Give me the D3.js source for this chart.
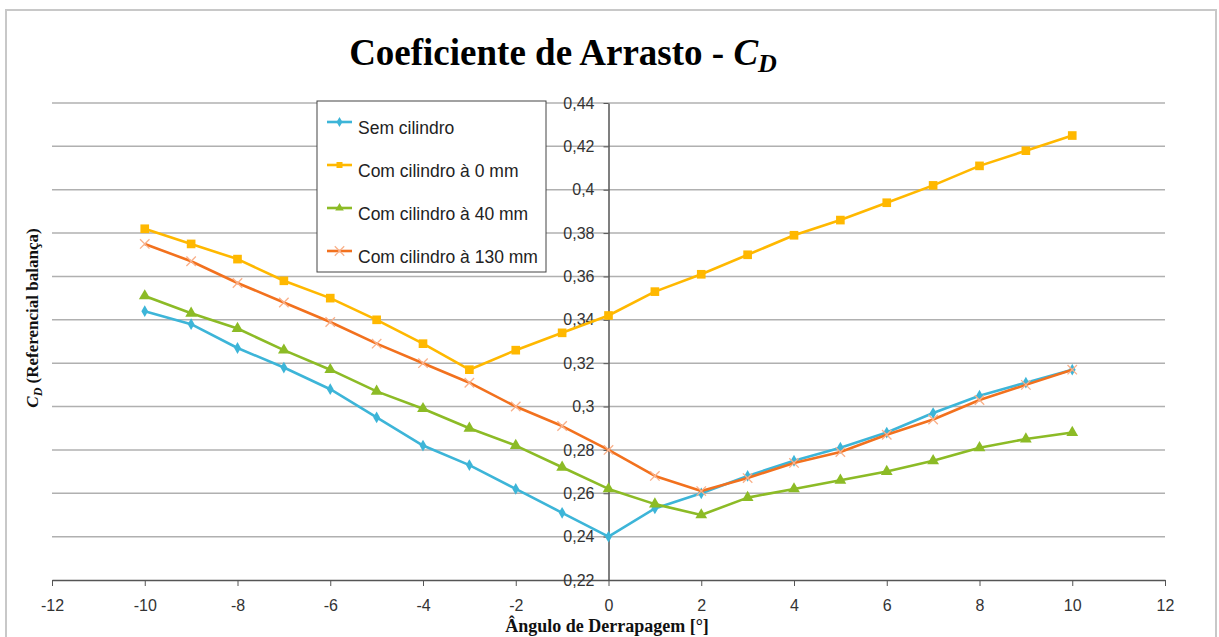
<!DOCTYPE html>
<html>
<head>
<meta charset="utf-8">
<script src="https://cdn.jsdelivr.net/npm/d3@7"></script>
<style>
  body { margin: 0; background: #fff; }
  .tick text { font-family: "Liberation Sans", Arial, sans-serif; font-size: 16px; fill: #333; }
</style>
</head>
<body>
<svg width="1219" height="637"></svg>
<script>
// ângulos de derrapagem
var angulos = [-10, -9, -8, -7, -6, -5, -4, -3, -2, -1, 0, 1, 2, 3, 4, 5, 6, 7, 8, 9, 10];

var semCilindro = [0.344, 0.338, 0.327, 0.318, 0.308, 0.295, 0.282, 0.273, 0.262, 0.251, 0.240,
                   0.253, 0.260, 0.268, 0.275, 0.281, 0.288, 0.297, 0.305, 0.311, 0.317];
var cilindro0 = [0.382, 0.375, 0.368, 0.358, 0.350, 0.340, 0.329, 0.317, 0.326, 0.334, 0.342,
                 0.353, 0.361, 0.370, 0.379, 0.386, 0.394, 0.402, 0.411, 0.418, 0.425];
var cilindro40 = [0.351, 0.343, 0.336, 0.326, 0.317, 0.307, 0.299, 0.290, 0.282, 0.272, 0.262,
                  0.255, 0.250, 0.258, 0.262, 0.266, 0.270, 0.275, 0.281, 0.285, 0.288];
var cilindro130 = [0.375, 0.367, 0.357, 0.348, 0.339, 0.329, 0.320, 0.311, 0.300, 0.291, 0.280,
                   0.268, 0.261, 0.267, 0.274, 0.279, 0.287, 0.294, 0.303, 0.310, 0.317];

var xTicks = [-12, -10, -8, -6, -4, -2, 0, 2, 4, 6, 8, 10, 12];
var yTicks = [0.22, 0.24, 0.26, 0.28, 0.30, 0.32, 0.34, 0.36, 0.38, 0.40, 0.42, 0.44];

var series = [
  { nome: "Sem cilindro", valores: semCilindro, cor: "#3db5d8", marcador: "diamond" },
  { nome: "Com cilindro à 0 mm", valores: cilindro0, cor: "#ffb800", marcador: "square" },
  { nome: "Com cilindro à 40 mm", valores: cilindro40, cor: "#8cbb26", marcador: "triangle" },
  { nome: "Com cilindro à 130 mm", valores: cilindro130, cor: "#f2711e", marcador: "cross" }
];

var svg = d3.select("svg");

// moldura da figura
svg.append("rect")
  .attr("x", 6).attr("y", 10).attr("width", 1210).attr("height", 640)
  .attr("fill", "none").attr("stroke", "#c8c8c8").attr("stroke-width", 2);

var x = d3.scaleLinear().domain([-12, 12]).range([52, 1165]);
var y = d3.scaleLinear().domain([0.22, 0.44]).range([580, 103]);

const g = svg.append("g");

// grade horizontal
g.selectAll("line.grid")
  .data(yTicks.slice(1))
  .enter().append("line")
    .attr("class", "grid")
    .attr("x1", 52).attr("x2", 1165)
    .attr("y1", d => y(d)).attr("y2", d => y(d))
    .attr("stroke", "#b0b0b0").attr("stroke-width", 1.5);

// eixo x
var eixoX = g.append("g")
  .attr("transform", "translate(0," + y(0.22) + ")")
  .call(d3.axisBottom(x).tickValues(xTicks).tickFormat(d => d).tickSize(6).tickSizeOuter(0));
eixoX.select(".domain").attr("stroke", "#555").attr("stroke-width", 1.5);
eixoX.selectAll(".tick line").attr("stroke", "#555");
eixoX.selectAll(".tick text").attr("dy", "1.4em");

// eixo y no zero
var eixoY = g.append("g")
  .attr("transform", "translate(" + x(0) + ",0)")
  .call(d3.axisLeft(y).tickValues(yTicks)
    .tickFormat(d => d3.format(".2~f")(d).replace(".", ","))
    .tickSize(5).tickSizeOuter(0));
eixoY.select(".domain").attr("stroke", "#555").attr("stroke-width", 1.5);
eixoY.selectAll(".tick line").attr("stroke", "#555");
eixoY.selectAll(".tick text").attr("x", -14);

var linha = d3.line().x((d, i) => x(angulos[i])).y(d => y(d));

var simbolos = { diamond: d3.symbolDiamond, square: d3.symbolSquare, triangle: d3.symbolTriangle };

function marcador(sel, tipo, cor, tam) {
  if (tipo === "cross") {
    sel.append("path")
      .attr("d", d3.symbol(d3.symbolTimes, tam.cross)())
      .attr("stroke", "#f9b08a").attr("stroke-width", 1.3).attr("fill", "none");
  } else {
    sel.append("path").attr("d", d3.symbol(simbolos[tipo], tam[tipo])()).attr("fill", cor);
  }
}

var tamGrafico = { diamond: 40, square: 75, triangle: 60, cross: 60 };
var tamLegenda = { diamond: 30, square: 36, triangle: 32, cross: 60 };

series.forEach(function(s) {
  var sg = g.append("g");
  sg.append("path")
    .datum(s.valores)
    .attr("d", linha)
    .attr("fill", "none")
    .attr("stroke", s.cor)
    .attr("stroke-width", 2.6)
    .attr("stroke-linejoin", "round");
  sg.selectAll("g.pt")
    .data(s.valores)
    .enter().append("g")
      .attr("class", "pt")
      .attr("transform", (d, i) => "translate(" + x(angulos[i]) + "," + y(d) + ")")
      .each(function() { marcador(d3.select(this), s.marcador, s.cor, tamGrafico); });
});

// legenda
var leg = svg.append("g").attr("transform", "translate(317,101)");
leg.append("rect")
  .attr("width", 229).attr("height", 171)
  .attr("fill", "#fff").attr("stroke", "#444").attr("stroke-width", 1);
series.forEach(function(s, i) {
  var ly = 21 + i * 43;
  var item = leg.append("g").attr("transform", "translate(0," + ly + ")");
  item.append("line").attr("x1", 10).attr("x2", 35).attr("y1", 0).attr("y2", 0)
    .attr("stroke", s.cor).attr("stroke-width", 2.6);
  var m = item.append("g").attr("transform", "translate(22.5,0)");
  marcador(m, s.marcador, s.cor, tamLegenda);
  item.append("text")
    .attr("x", 41).attr("y", 12)
    .attr("font-family", "Liberation Sans, Arial, sans-serif")
    .attr("font-size", 17.5).attr("fill", "#222")
    .text(s.nome);
});

// título
var titulo = svg.append("text")
  .attr("x", 563).attr("y", 65)
  .attr("text-anchor", "middle")
  .attr("font-family", "Liberation Serif, Times New Roman, serif")
  .attr("font-weight", "bold").attr("font-size", 37).attr("fill", "#000");
titulo.append("tspan").text("Coeficiente de Arrasto - ");
titulo.append("tspan").attr("font-style", "italic").text("C");
titulo.append("tspan").attr("font-style", "italic").attr("font-size", 26).attr("dy", 7).text("D");

// rótulo eixo y
var rotY = svg.append("text")
  .attr("transform", "translate(38,318) rotate(-90)")
  .attr("text-anchor", "middle")
  .attr("font-family", "Liberation Serif, Times New Roman, serif")
  .attr("font-weight", "bold").attr("font-size", 17).attr("fill", "#111");
rotY.append("tspan").attr("font-style", "italic").text("C");
rotY.append("tspan").attr("font-style", "italic").attr("font-size", 12).attr("dy", 4).text("D");
rotY.append("tspan").attr("dy", -4).text(" (Referencial balança)");

// rótulo eixo x
svg.append("text")
  .attr("x", 607).attr("y", 632)
  .attr("text-anchor", "middle")
  .attr("font-family", "Liberation Serif, Times New Roman, serif")
  .attr("font-weight", "bold").attr("font-size", 18).attr("fill", "#111")
  .text("Ângulo de Derrapagem [°]");
</script>
</body>
</html>
